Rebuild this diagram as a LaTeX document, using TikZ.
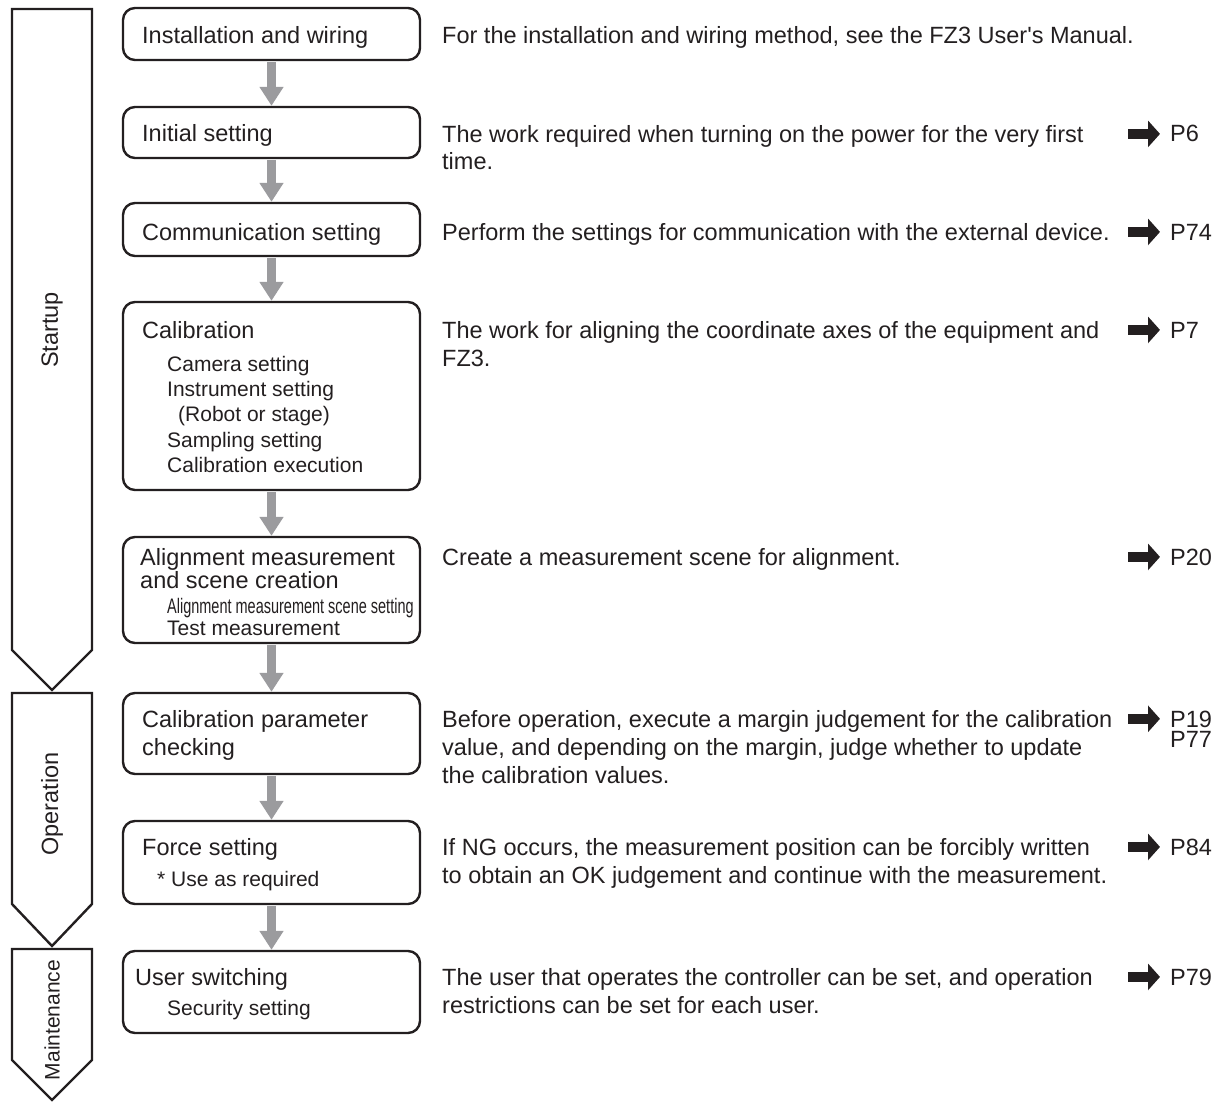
\documentclass[tikz,border=0pt]{standalone}
\usepackage{fontspec}
\setmainfont{Liberation Sans}
\usepackage{graphicx}
\usetikzlibrary{arrows.meta}
\definecolor{ink}{RGB}{35,31,32}
\definecolor{flowgray}{RGB}{155,155,158}
\begin{document}
\begin{tikzpicture}[x=1pt,y=-1pt,
  box/.style={draw=ink, line width=2.4pt, rounded corners=12pt, minimum width=297pt, inner sep=0pt},
  phase/.style={draw=ink, line width=2.4pt, line join=miter},
  main/.style={font=\fontsize{23.5}{28}\selectfont, text=ink, inner sep=0pt, anchor=base west},
  sub/.style={font=\fontsize{21}{25}\selectfont, text=ink, inner sep=0pt, anchor=base west},
  desc/.style={main, align=left},
  flow/.style={draw=flowgray, line width=9pt, -{Triangle[width=23pt,length=19pt]}},
  refarrow/.style={draw=ink, line width=10pt, -{Triangle[width=26pt,length=12pt]}},
  plabel/.style={font=\fontsize{23.5}{28}\selectfont, text=ink, rotate=90, inner sep=0pt}
]
\useasboundingbox (0,0) rectangle (1230,1102);

% phase bars
\draw[phase] (12,9) -- (92,9) -- (92,650) -- (52,690) -- (12,650) -- cycle;
\draw[phase] (12,693) -- (92,693) -- (92,904) -- (52,946) -- (12,904) -- cycle;
\draw[phase] (12,949) -- (92,949) -- (92,1060) -- (52,1100) -- (12,1060) -- cycle;
\node[plabel] (startup) at (52,330) {Startup};
\node[plabel] (operation) at (52,804) {Operation};
\node[plabel, font=\fontsize{21}{25}\selectfont] (maint) at (52,1020) {Maintenance};

% boxes
\node[box, minimum height=52pt] (b1) at (271.5,34) {};
\node[box, minimum height=51pt] (b2) at (271.5,132.5) {};
\node[box, minimum height=53pt] (b3) at (271.5,229.5) {};
\node[box, minimum height=188pt] (b4) at (271.5,396) {};
\node[box, minimum height=106pt] (b5) at (271.5,590) {};
\node[box, minimum height=81pt] (b6) at (271.5,733.5) {};
\node[box, minimum height=83pt] (b7) at (271.5,862.5) {};
\node[box, minimum height=82pt] (b8) at (271.5,992) {};

% box texts
\node[main] (t1) at (142,44) {Installation and wiring};
\node[main] (t2) at (142,142) {Initial setting};
\node[main] (t3) at (142,240) {Communication setting};
\node[main] (t4) at (142,338) {Calibration};
\node[sub] (t4a) at (167,371) {Camera setting};
\node[sub] (t4b) at (167,396) {Instrument setting};
\node[sub] (t4c) at (178,421) {(Robot or stage)};
\node[sub] (t4d) at (167,447) {Sampling setting};
\node[sub] (t4e) at (167,472) {Calibration execution};
\node[main] (t5) at (140,565) {Alignment measurement};
\node[main] (t5b) at (140,588) {and scene creation};
\node[sub] (t5c) at (167,613) {\scalebox{0.69}[1]{Alignment measurement scene setting}};
\node[sub] (t5d) at (167,635) {Test measurement};
\node[main] (t6) at (142,727) {Calibration parameter};
\node[main] (t6b) at (142,755) {checking};
\node[main] (t7) at (142,855) {Force setting};
\node[sub] (t7a) at (157,886) {* Use as required};
\node[main] (t8) at (135,985) {User switching};
\node[sub] (t8a) at (167,1015) {Security setting};

% flow arrows
\draw[flow] ([yshift=-1.2pt]b1.south) -- (b2.north);
\draw[flow] ([yshift=-1.2pt]b2.south) -- (b3.north);
\draw[flow] ([yshift=-1.2pt]b3.south) -- (b4.north);
\draw[flow] ([yshift=-1.2pt]b4.south) -- (b5.north);
\draw[flow] ([yshift=-1.2pt]b5.south) -- (b6.north);
\draw[flow] ([yshift=-1.2pt]b6.south) -- (b7.north);
\draw[flow] ([yshift=-1.2pt]b7.south) -- (b8.north);

% descriptions (anchored at the baseline of their last line)
\node[desc] (r1) at (442,44) {For the installation and wiring method, see the FZ3 User\textquotesingle s Manual.};
\node[desc] (r2) at (442,170) {The work required when turning on the power for the very first\\time.};
\node[desc] (r3) at (442,240) {Perform the settings for communication with the external device.};
\node[desc] (r4) at (442,366) {The work for aligning the coordinate axes of the equipment and\\FZ3.};
\node[desc] (r5) at (442,565) {Create a measurement scene for alignment.};
\node[desc] (r6) at (442,783) {Before operation, execute a margin judgement for the calibration\\value, and depending on the margin, judge whether to update\\the calibration values.};
\node[desc] (r7) at (442,883) {If NG occurs, the measurement position can be forcibly written\\to obtain an OK judgement and continue with the measurement.};
\node[desc] (r8) at (442,1013) {The user that operates the controller can be set, and operation\\restrictions can be set for each user.};

% page refs
\node[main] (p6) at (1170,142) {P6};
\node[main] (p74) at (1170,240) {P74};
\node[main] (p7) at (1170,338) {P7};
\node[main] (p20) at (1170,565) {P20};
\node[main, align=left, font=\fontsize{23.5}{20}\selectfont] (p19) at (1170,747) {P19\\P77};
\node[main] (p84) at (1170,855) {P84};
\node[main] (p79) at (1170,985) {P79};
\foreach \p in {p6,p74,p7,p20,p84,p79}
  \draw[refarrow] ([xshift=-42pt]\p.west) -- ([xshift=-10pt]\p.west);
\draw[refarrow] ([xshift=-42pt,yshift=-8.4pt]p19.north west) -- ([xshift=-10pt,yshift=-8.4pt]p19.north west);
\end{tikzpicture}
\end{document}
